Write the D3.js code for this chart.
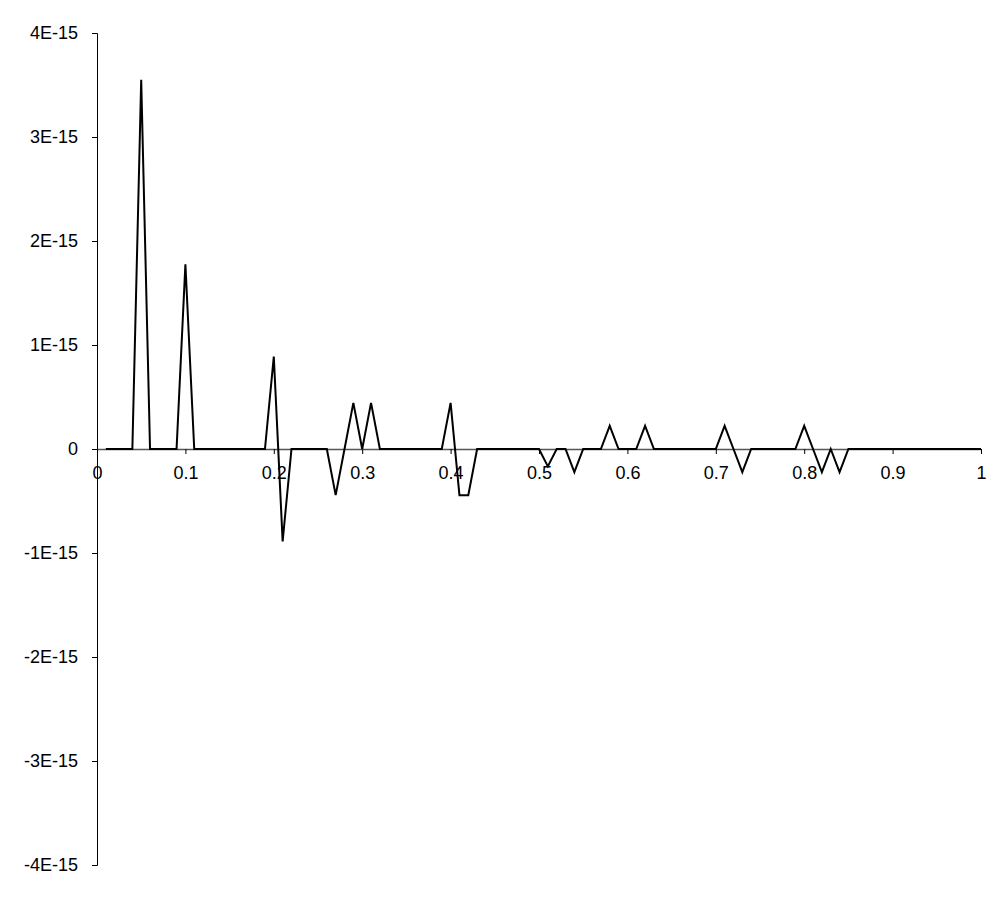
<!DOCTYPE html>
<html>
<head>
<meta charset="utf-8">
<script src="https://cdn.jsdelivr.net/npm/d3@7"></script>
<style>
  html, body { margin: 0; padding: 0; background: #fff; }
  svg { display: block; }
  text { font-family: "Liberation Sans", Arial, sans-serif; }
</style>
</head>
<body>
<svg id="chart" width="999" height="899"></svg>
<script>
// x values 0.01 .. 1.00
const xValues = [
  0.01,0.02,0.03,0.04,0.05,0.06,0.07,0.08,0.09,0.10,
  0.11,0.12,0.13,0.14,0.15,0.16,0.17,0.18,0.19,0.20,
  0.21,0.22,0.23,0.24,0.25,0.26,0.27,0.28,0.29,0.30,
  0.31,0.32,0.33,0.34,0.35,0.36,0.37,0.38,0.39,0.40,
  0.41,0.42,0.43,0.44,0.45,0.46,0.47,0.48,0.49,0.50,
  0.51,0.52,0.53,0.54,0.55,0.56,0.57,0.58,0.59,0.60,
  0.61,0.62,0.63,0.64,0.65,0.66,0.67,0.68,0.69,0.70,
  0.71,0.72,0.73,0.74,0.75,0.76,0.77,0.78,0.79,0.80,
  0.81,0.82,0.83,0.84,0.85,0.86,0.87,0.88,0.89,0.90,
  0.91,0.92,0.93,0.94,0.95,0.96,0.97,0.98,0.99,1.00
];
const yValues = [
  0,0,0,0,3.55e-15,0,0,0,0,1.776e-15,
  0,0,0,0,0,0,0,0,0,8.88e-16,
  -8.88e-16,0,0,0,0,0,-4.44e-16,0,4.44e-16,0,
  4.44e-16,0,0,0,0,0,0,0,0,4.44e-16,
  -4.44e-16,-4.44e-16,0,0,0,0,0,0,0,0,
  -1.67e-16,0,0,-2.22e-16,0,0,0,2.22e-16,0,0,
  0,2.22e-16,0,0,0,0,0,0,0,0,
  2.22e-16,0,-2.22e-16,0,0,0,0,0,0,2.22e-16,
  0,-2.22e-16,0,-2.22e-16,0,0,0,0,0,0,
  0,0,0,0,0,0,0,0,0,0
];
const xTicks = [0,0.1,0.2,0.3,0.4,0.5,0.6,0.7,0.8,0.9,1];
const xTickLabels = ["0","0.1","0.2","0.3","0.4","0.5","0.6","0.7","0.8","0.9","1"];
const yTicks = [-4e-15,-3e-15,-2e-15,-1e-15,0,1e-15,2e-15,3e-15,4e-15];
const yTickLabels = ["-4E-15","-3E-15","-2E-15","-1E-15","0","1E-15","2E-15","3E-15","4E-15"];

const svg = d3.select("#chart");
const mLeft = 97, mRight = 981, mTop = 33, mBottom = 865;

const x = d3.scaleLinear().domain([0, 1]).range([mLeft, mRight]);
const y = d3.scaleLinear().domain([-4e-15, 4e-15]).range([mBottom, mTop]);

// Y axis
const yAxis = d3.axisLeft(y)
  .tickValues(yTicks)
  .tickSize(5)
  .tickPadding(14)
  .tickFormat((d, i) => yTickLabels[i]);
const gy = svg.append("g").attr("transform", `translate(${mLeft},0)`).call(yAxis);
gy.select(".domain").attr("stroke", "#000").attr("stroke-width", 1);
gy.selectAll(".tick line").attr("stroke", "#000");
gy.selectAll(".tick text").attr("font-size", 18).attr("fill", "#000")
  .attr("font-family", "'Liberation Sans', Arial, sans-serif");

// X axis at y=0
const xAxis = d3.axisBottom(x)
  .tickValues(xTicks)
  .tickSize(5)
  .tickSizeOuter(0)
  .tickPadding(12)
  .tickFormat((d, i) => xTickLabels[i]);
const gx = svg.append("g").attr("transform", `translate(0,${y(0)})`).call(xAxis);
gx.select(".domain").attr("stroke", "#555").attr("stroke-width", 1.5);
gx.selectAll(".tick line").attr("stroke", "#000");
gx.selectAll(".tick text").attr("font-size", 18).attr("fill", "#000")
  .attr("font-family", "'Liberation Sans', Arial, sans-serif");

// Data line
const data = xValues.map((v, i) => [v, yValues[i]]);
const line = d3.line().x(d => x(d[0])).y(d => y(d[1]));
svg.append("path")
  .datum(data)
  .attr("fill", "none")
  .attr("stroke", "#000")
  .attr("stroke-width", 2)
  .attr("stroke-linejoin", "miter")
  .attr("d", line);
</script>
</body>
</html>
